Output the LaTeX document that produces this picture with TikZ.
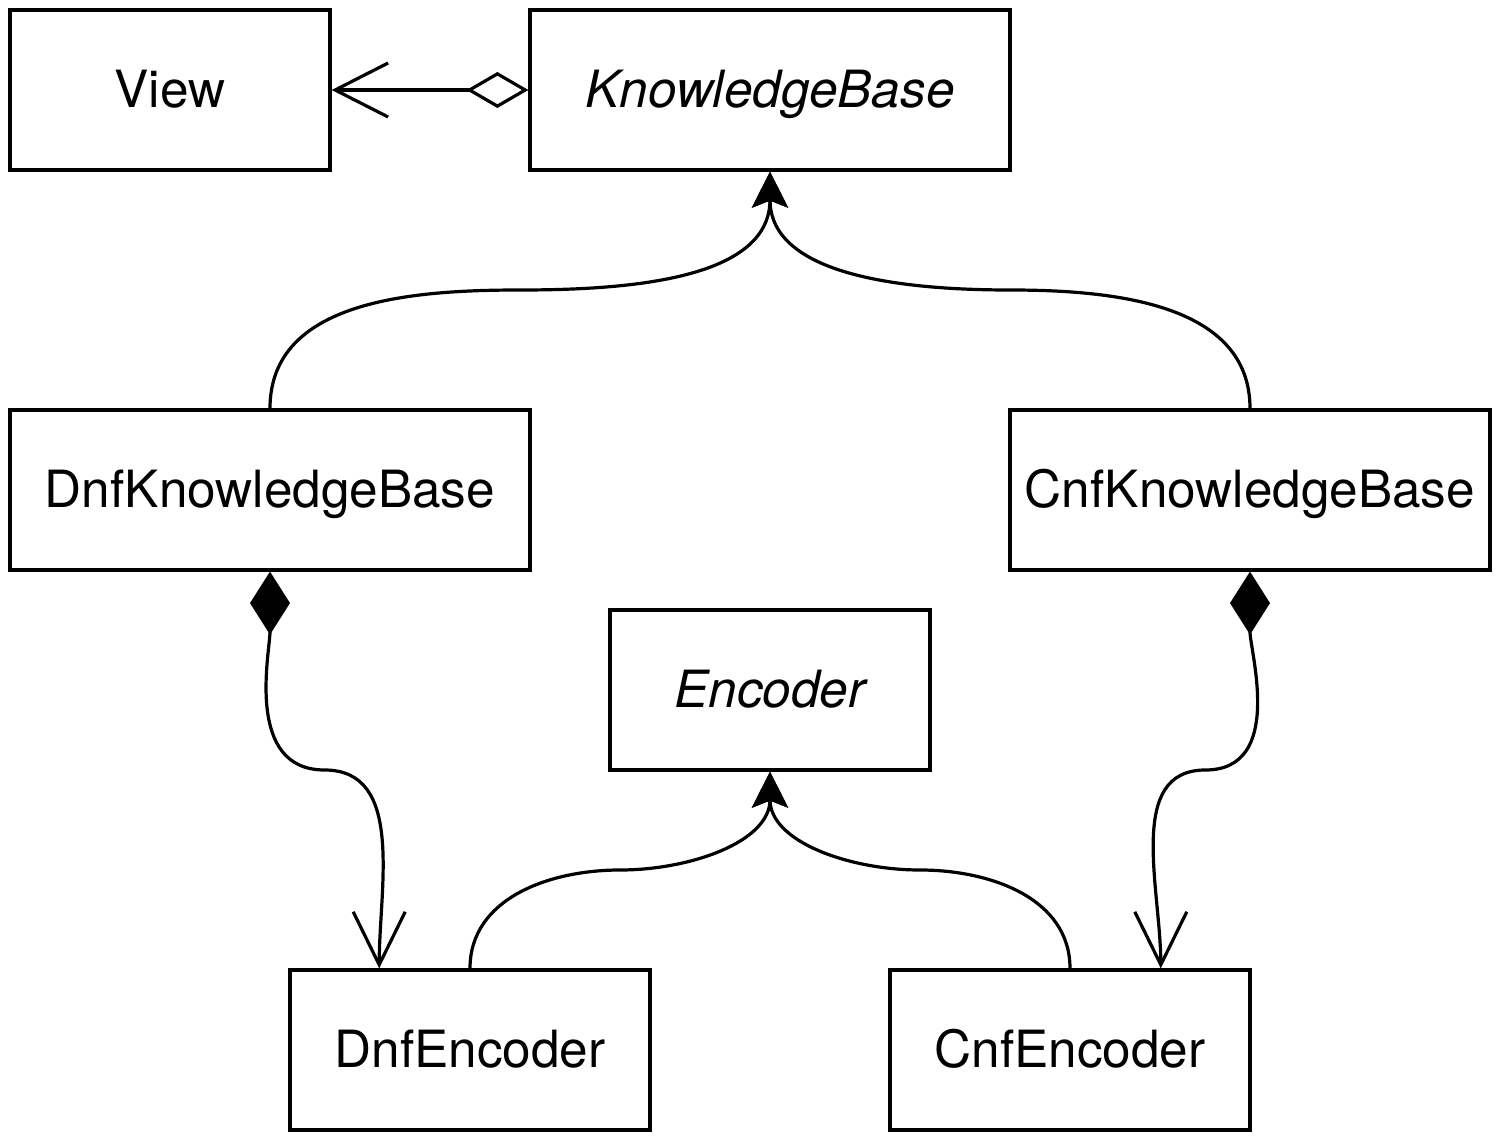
\documentclass[tikz,border=0pt]{standalone}
\usepackage{fontspec}
\setmainfont{TeX Gyre Heros}
\usetikzlibrary{arrows.meta,calc}
\tikzset{ 
   box/.style = {rectangle, draw, line width=0.32mm, minimum height=16mm, inner sep=0pt, text height=10.2pt, text depth=0pt, font=\fontsize{14.6}{17}\selectfont, },
   aggregation/.style = {{Diamond[open,length=6.2mm,width=3.6mm]}-{Straight Barb[length=5.3mm,width=5.4mm]}, line width=0.32mm, },
   composition/.style = {{Diamond[length=6.3mm,width=4mm]}-{Straight Barb[length=5.3mm,width=5.2mm]}, line width=0.32mm, },
   inherit/.style = {-{Stealth[length=3.6mm,width=3.6mm,inset=0.7mm]}, line width=0.32mm, },
}
\begin{document}
\begin{tikzpicture}

      \useasboundingbox (0mm,0mm) rectangle (150mm,-114mm);

      \node[box, minimum width=32mm] (view)    at (17mm,-9mm)   {View};
      \node[box, minimum width=48mm] (kb)      at (77mm,-9mm)   {\itshape KnowledgeBase};
      \node[box, minimum width=52mm] (dnfkb)   at (27mm,-49mm)  {DnfKnowledgeBase};
      \node[box, minimum width=48mm] (cnfkb)   at (125mm,-49mm) {CnfKnowledgeBase};
      \node[box, minimum width=32mm] (encoder) at (77mm,-69mm)  {\itshape Encoder};
      \node[box, minimum width=36mm] (dnfenc)  at (47mm,-105mm) {DnfEncoder};
      \node[box, minimum width=36mm] (cnfenc)  at (107mm,-105mm){CnfEncoder};

      \coordinate (dnfend) at ($(dnfenc.north west)!0.25!(dnfenc.north east)$);
      \coordinate (cnfend) at ($(cnfenc.north west)!0.75!(cnfenc.north east)$);

      \draw[aggregation] (kb.west) -- (view.east);
      \draw[inherit] (dnfkb.north) to[out=90,in=180] ($(dnfkb.north)!0.5!(kb.south)$) to[out=0,in=-90] (kb.south);
      \draw[inherit] (cnfkb.north) to[out=90,in=0] ($(cnfkb.north)!0.5!(kb.south)$) to[out=180,in=-90] (kb.south);
      \draw[inherit] (dnfenc.north) to[out=90,in=180] ($(dnfenc.north)!0.5!(encoder.south)$) to[out=0,in=-90] (encoder.south);
      \draw[inherit] (cnfenc.north) to[out=90,in=0] ($(cnfenc.north)!0.5!(encoder.south)$) to[out=180,in=-90] (encoder.south);
      \draw[composition] (dnfkb.south) to[out=-90,in=180] ($(dnfkb.south)!0.5!(dnfend)$) to[out=0,in=90] (dnfend);
      \draw[composition] (cnfkb.south) to[out=-90,in=0] ($(cnfkb.south)!0.5!(cnfend)$) to[out=180,in=90] (cnfend);
\end{tikzpicture}
\end{document}
